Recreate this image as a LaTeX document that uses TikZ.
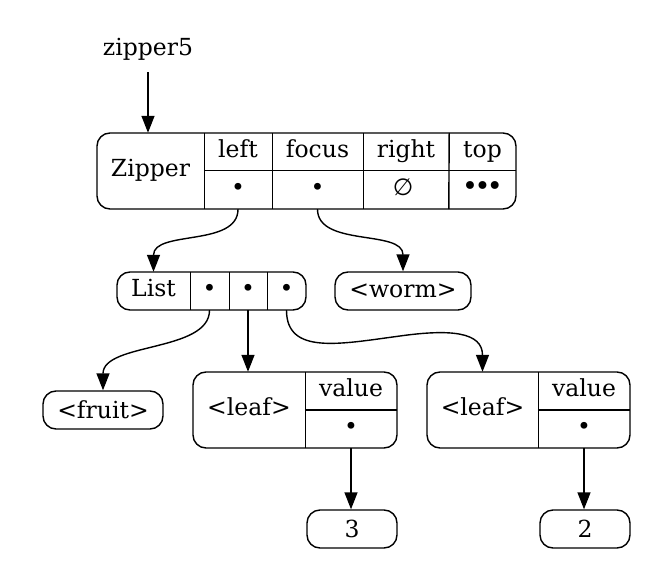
\documentclass[tikz,border=0pt]{standalone}
\usepackage{fontspec}
\setmainfont{DejaVu Serif}
\newfontfamily\symfont{DejaVu Sans}
\usetikzlibrary{arrows.meta}

\tikzset{
  rec/.style={draw, rounded corners=13pt, line width=1.4pt, inner sep=0pt},
  fld/.style={inner sep=0pt, text height=16pt, text depth=5pt},
  ptr/.style={line width=1.4pt, -{Triangle[length=17pt,width=13pt]}},
}

\begin{document}
\begin{tikzpicture}[x=1pt, y=-1pt, font=\fontsize{23.5}{28}\selectfont]
  \useasboundingbox (0,0) rectangle (668,585);

  % outer boxes
  \begin{scope}[every node/.style={rec}]
    \node[minimum width=419pt, minimum height=76pt] (zip)   at (306.5,171) {};
    \node[minimum width=189pt, minimum height=38pt] (lst)   at (211.5,291) {};
    \node[minimum width=136pt, minimum height=38pt] (worm)  at (403,291)   {<worm>};
    \node[minimum width=120pt, minimum height=38pt] (fruit) at (103,410)   {<fruit>};
    \node[minimum width=204pt, minimum height=76pt] (leafa) at (295,410)   {};
    \node[minimum width=203pt, minimum height=76pt] (leafb) at (528.5,410) {};
    \node[minimum width=90pt,  minimum height=38pt] (three) at (352,529)   {3};
    \node[minimum width=90pt,  minimum height=38pt] (two)   at (585,529)   {2};
  \end{scope}

  \node[fld, minimum height=44pt] (z5) at (148,50) {zipper5};

  % fields
  \begin{scope}[every node/.style={fld, minimum height=38pt}]
    \node[minimum width=107pt, minimum height=76pt] (zhd) at (150.5,171) {Zipper};
    \node[minimum width=68pt]  (zlefth) at (238,152)   {left};
    \node[minimum width=68pt]  (zleft)  at (238,190)   {•};
    \node[minimum width=91pt]  (zfoch)  at (317.5,152) {focus};
    \node[minimum width=91pt]  (zfoc)   at (317.5,190) {•};
    \node[minimum width=86pt]  (zrgth)  at (406,152)   {right};
    \node[minimum width=86pt]  (zrgt)   at (403,190)   {\symfont ∅};
    \node[minimum width=67pt]  (ztoph)  at (482.5,152) {top};
    \node[minimum width=67pt]  (ztop)   at (482.5,190)
      {\symfont\fontsize{27}{30}\selectfont •\kern-3.5pt•\kern-3.5pt•};

    \node[minimum width=73pt]  (lhd) at (153.5,291) {List};
    \node[minimum width=39pt]  (la)  at (209.5,291) {•};
    \node[minimum width=38pt]  (lb)  at (248,291)   {•};
    \node[minimum width=39pt]  (lc)  at (286.5,291) {•};

    \node[minimum width=112pt, minimum height=76pt] (ahd) at (249,410) {<leaf>};
    \node[minimum width=92pt]  (avalh) at (351,391) {value};
    \node[minimum width=92pt]  (aval)  at (351,429) {•};

    \node[minimum width=111pt, minimum height=76pt] (bhd) at (482.5,410) {<leaf>};
    \node[minimum width=92pt]  (bvalh) at (584,391) {value};
    \node[minimum width=92pt]  (bval)  at (584,429) {•};
  \end{scope}

  % dividers
  \begin{scope}[line width=1.4pt]
    \draw (zhd.north east) -- (zhd.south east);
    \draw (zlefth.north east) -- (zleft.south east);
    \draw (zfoch.north east) -- (zfoc.south east);
    \draw (zrgth.north east) -- (ztop.south west);
    \draw (zleft.north west) -- (ztop.north east);
    \draw (lhd.north east) -- (lhd.south east);
    \draw (la.north east) -- (la.south east);
    \draw (lb.north east) -- (lb.south east);
    \draw (ahd.north east) -- (ahd.south east);
    \draw (aval.north west) -- (aval.north east);
    \draw (bhd.north east) -- (bhd.south east);
    \draw (bval.north west) -- (bval.north east);
  \end{scope}

  % pointers
  \begin{scope}[every path/.style={ptr}]
    \draw (z5.south) -- (z5.south |- zhd.north);
    \draw (zleft.south) .. controls +(0,38) and +(0,-42) .. (lhd.north);
    \draw (zfoc.south) .. controls +(0,38) and +(0,-42) .. (worm.north);
    \draw (la.south) .. controls +(0,42) and +(0,-48) .. (fruit.north);
    \draw (lb.south) -- (lb.south |- ahd.north);
    \draw (lc.south) .. controls +(0,45) and +(-60,8) .. (400,336)
                     .. controls +(50,-7) and +(0,-40) .. (bhd.north);
    \draw (aval.south) -- (aval.south |- three.north);
    \draw (bval.south) -- (bval.south |- two.north);
  \end{scope}

\end{tikzpicture}
\end{document}
